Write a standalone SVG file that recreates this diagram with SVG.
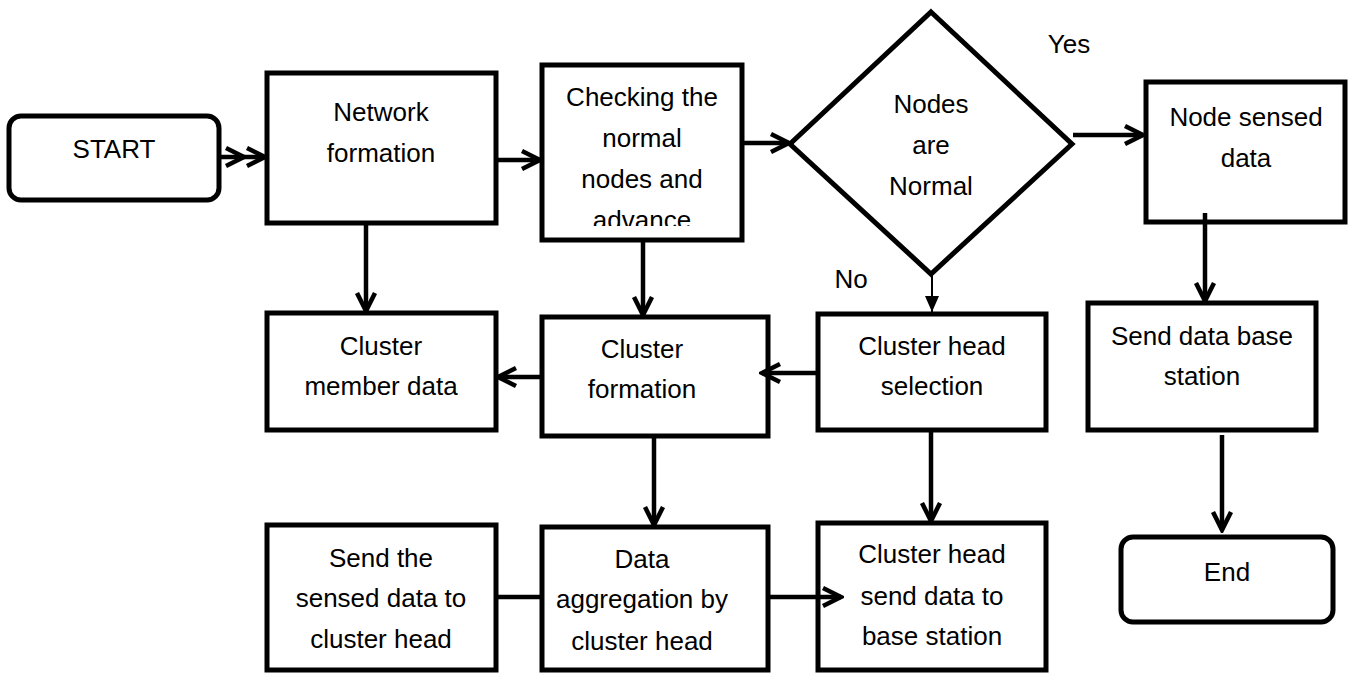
<svg xmlns="http://www.w3.org/2000/svg" width="1349" height="673" viewBox="0 0 1349 673">
<style>
.box{fill:#fff;stroke:#000;stroke-width:5}
.t{font-family:"Liberation Sans",Arial,sans-serif;font-size:26px;fill:#000;text-anchor:middle}
.c{fill:none;stroke:#000;stroke-width:4.5}
.thin{fill:none;stroke:#000;stroke-width:2}
</style>
<defs>
<marker id="ah" viewBox="0 0 24 24" refX="21" refY="12" markerWidth="24" markerHeight="24" markerUnits="userSpaceOnUse" orient="auto">
<path d="M3,3 L21,12 L3,21" fill="none" stroke="#000" stroke-width="4.5"/>
</marker>
<marker id="tri" viewBox="0 0 16 16" refX="16" refY="8" markerWidth="16" markerHeight="16" markerUnits="userSpaceOnUse" orient="auto">
<path d="M0,1 L16,8 L0,15 Z" fill="#000"/>
</marker>
<clipPath id="clipChk"><rect x="542" y="65" width="200" height="161"/></clipPath>
</defs>
<rect width="1349" height="673" fill="#fff"/>

<g id="start"><rect class="box" x="9" y="116" width="210" height="84" rx="12"/><text class="t" x="114" y="158">START</text></g>
<g id="network"><rect class="box" x="267" y="73" width="229" height="150"/><text class="t" x="381" y="121">Network</text><text class="t" x="381" y="162">formation</text></g>
<g id="checking"><rect class="box" x="542" y="65" width="200" height="175"/>
<g clip-path="url(#clipChk)"><text class="t" x="642" y="106">Checking the</text><text class="t" x="642" y="147">normal</text><text class="t" x="642" y="188">nodes and</text><text class="t" x="642" y="229">advance</text></g></g>
<g id="decision"><polygon class="box" points="931,12 1072,144 931,274 790,144"/><text class="t" x="931" y="113">Nodes</text><text class="t" x="931" y="154">are</text><text class="t" x="931" y="195">Normal</text></g>
<g id="yes"><text class="t" x="1069" y="53">Yes</text></g>
<g id="no"><text class="t" x="851" y="288">No</text></g>
<g id="nodesensed"><rect class="box" x="1146" y="82" width="199" height="140"/><text class="t" x="1246" y="126">Node sensed</text><text class="t" x="1246" y="167">data</text></g>
<g id="clustermember"><rect class="box" x="267" y="313" width="229" height="117"/><text class="t" x="381" y="355">Cluster</text><text class="t" x="381" y="395">member data</text></g>
<g id="clusterformation"><rect class="box" x="542" y="317" width="226" height="119"/><text class="t" x="642" y="358">Cluster</text><text class="t" x="642" y="398">formation</text></g>
<g id="chselection"><rect class="box" x="818" y="314" width="228" height="116"/><text class="t" x="932" y="355">Cluster head</text><text class="t" x="932" y="395">selection</text></g>
<g id="sendbase"><rect class="box" x="1088" y="303" width="228" height="127"/><text class="t" x="1202" y="345">Send data base</text><text class="t" x="1202" y="385">station</text></g>
<g id="end"><rect class="box" x="1121" y="537" width="212" height="85" rx="12"/><text class="t" x="1227" y="581">End</text></g>
<g id="sendsensed"><rect class="box" x="267" y="525" width="229" height="145"/><text class="t" x="381" y="567">Send the</text><text class="t" x="381" y="607">sensed data to</text><text class="t" x="381" y="648">cluster head</text></g>
<g id="aggregation"><rect class="box" x="542" y="527" width="226" height="143"/><text class="t" x="642" y="568">Data</text><text class="t" x="642" y="608">aggregation by</text><text class="t" x="642" y="650">cluster head</text></g>
<g id="chsend"><rect class="box" x="818" y="523" width="228" height="147"/><text class="t" x="932" y="563">Cluster head</text><text class="t" x="932" y="605">send data to</text><text class="t" x="932" y="645">base station</text></g>

<g id="connectors">
<line class="c" x1="219" y1="157" x2="244" y2="157" marker-end="url(#ah)"/>
<line class="c" x1="244" y1="157" x2="265" y2="157" marker-end="url(#ah)"/>
<line class="c" x1="496" y1="160" x2="540" y2="160" marker-end="url(#ah)"/>
<line class="c" x1="742" y1="143" x2="789" y2="143" marker-end="url(#ah)"/>
<line class="c" x1="1073" y1="135" x2="1143" y2="135" marker-end="url(#ah)"/>
<line class="c" x1="366" y1="223" x2="366" y2="311" marker-end="url(#ah)"/>
<line class="c" x1="643" y1="240" x2="643" y2="315" marker-end="url(#ah)"/>
<line class="thin" x1="932" y1="274" x2="932" y2="312" marker-end="url(#tri)"/>
<line class="c" x1="1205" y1="213" x2="1205" y2="301" marker-end="url(#ah)"/>
<line class="c" x1="818" y1="373" x2="762" y2="373" marker-end="url(#ah)"/>
<line class="c" x1="542" y1="377" x2="498" y2="377" marker-end="url(#ah)"/>
<line class="c" x1="654" y1="436" x2="654" y2="525" marker-end="url(#ah)"/>
<line class="c" x1="496" y1="597" x2="542" y2="597"/>
<line class="c" x1="768" y1="597" x2="841" y2="597" marker-end="url(#ah)"/>
<line class="c" x1="931" y1="430" x2="931" y2="521" marker-end="url(#ah)"/>
<line class="c" x1="1222" y1="435" x2="1222" y2="530" marker-end="url(#ah)"/>
</g>
</svg>
